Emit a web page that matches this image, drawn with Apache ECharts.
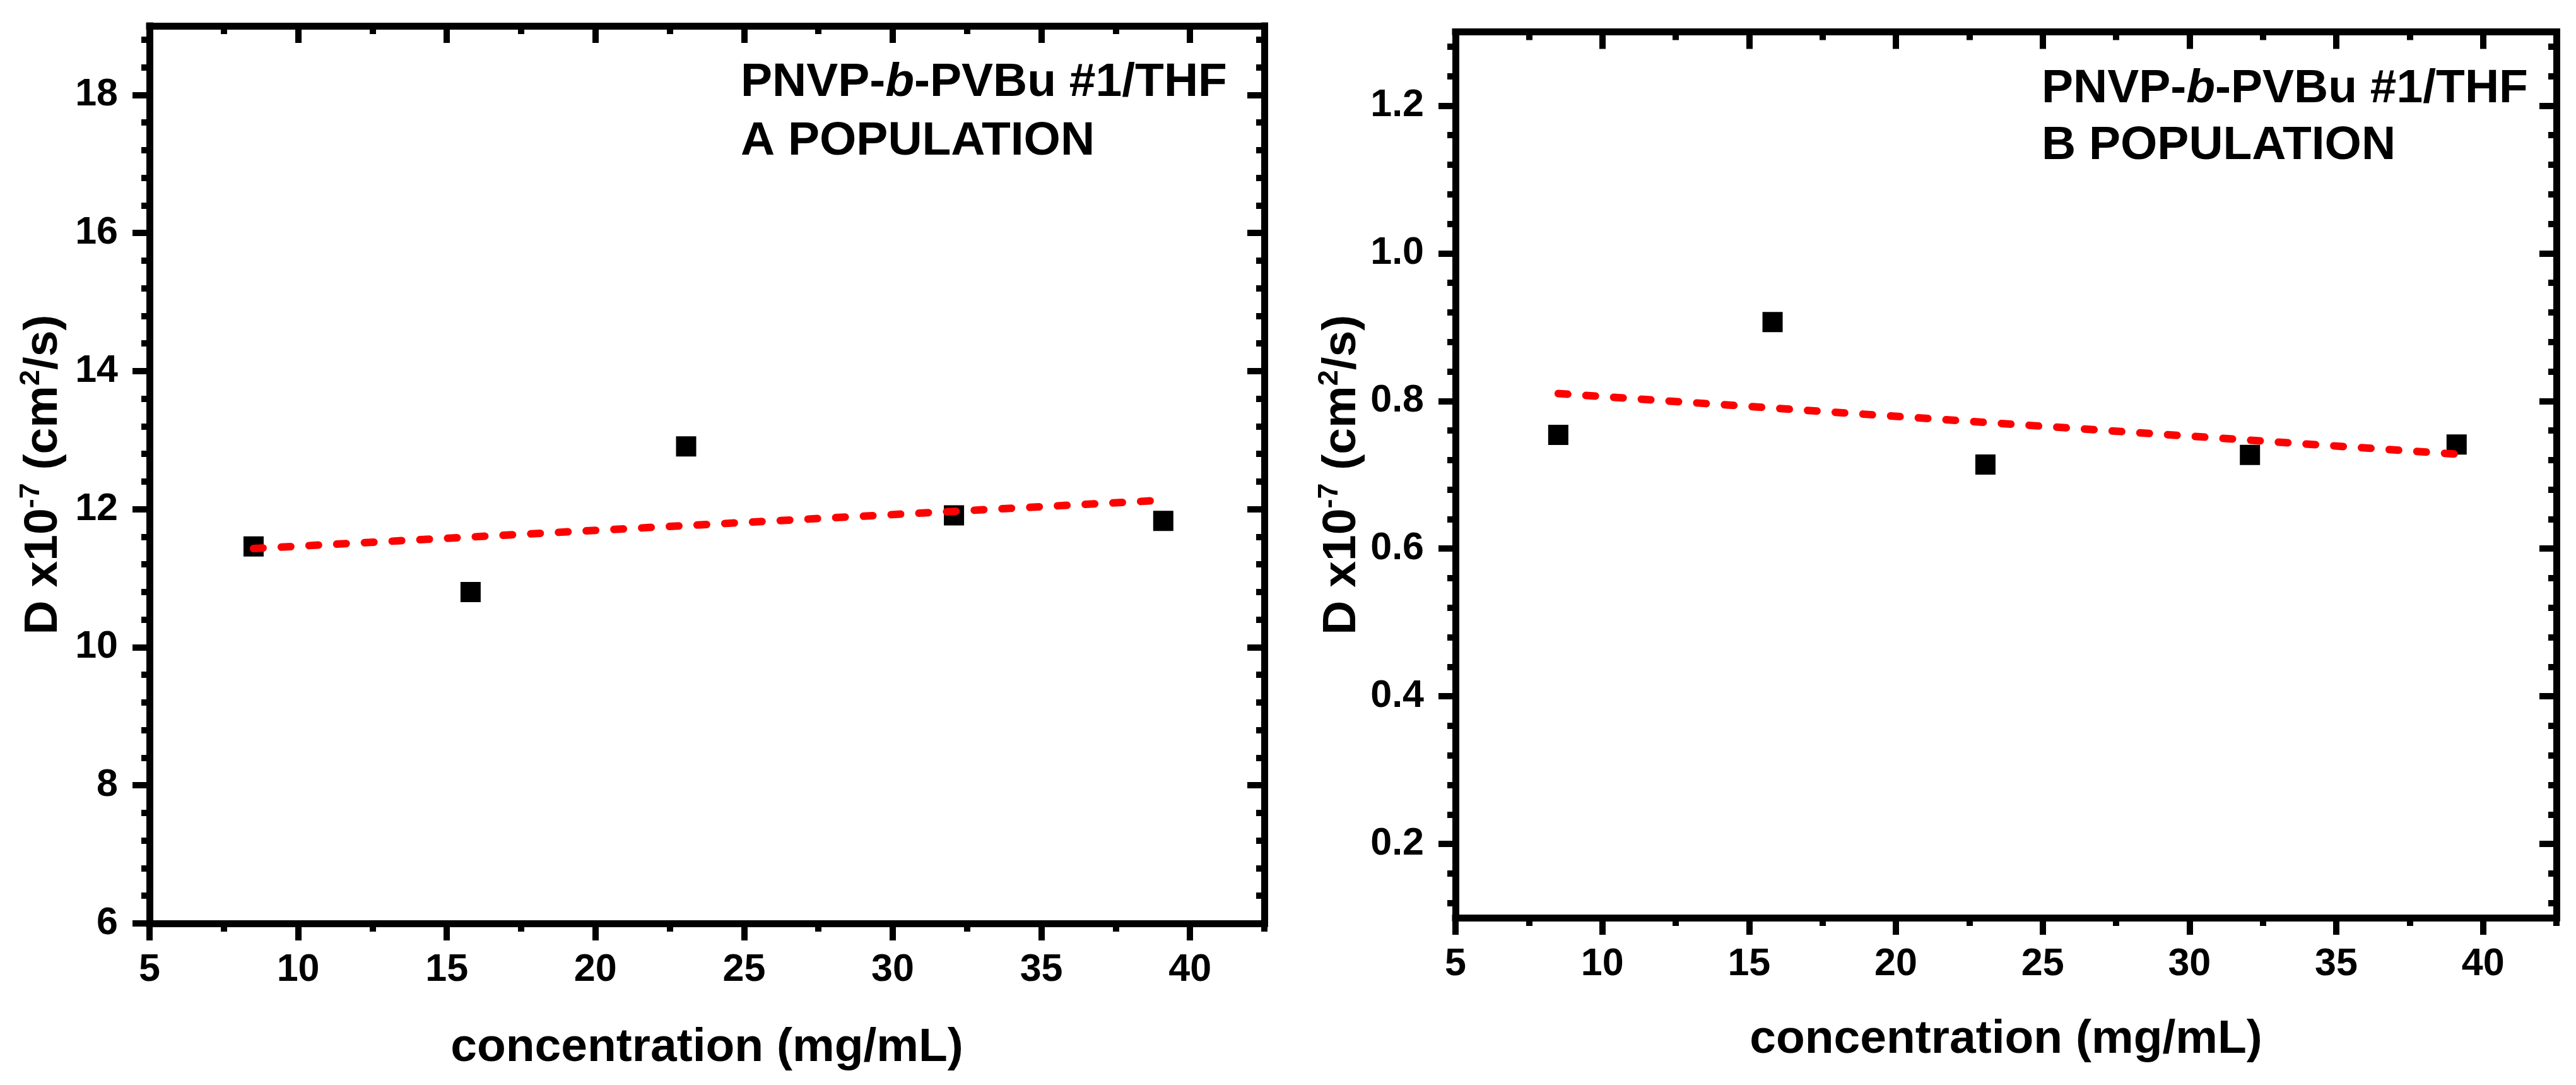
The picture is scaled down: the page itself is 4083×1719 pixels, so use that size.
<!DOCTYPE html>
<html><head><meta charset="utf-8">
<script src="https://cdn.jsdelivr.net/npm/echarts@6/dist/echarts.min.js"></script>
<style>html,body{margin:0;padding:0;background:#fff}#c{width:4083px;height:1719px}</style>
</head><body><div id="c"></div>
<script>
// ---- data ----
const concentration = [8.5, 15.8, 23.05, 32.06, 39.1];
const popA = [11.46, 10.80, 12.91, 11.91, 11.83];
const popB = [0.754, 0.907, 0.714, 0.727, 0.741];
const fitX = [8.5, 39.1];
const fitA = [11.43, 12.13];
const fitB = [0.810, 0.728];
const xTicks = [5, 10, 15, 20, 25, 30, 35, 40];
const xMinorTicks = [7.5, 12.5, 17.5, 22.5, 27.5, 32.5, 37.5, 42.5];
const yTicksA = [6, 8, 10, 12, 14, 16, 18];
const yMinorTicksA = [6.4, 6.8, 7.2, 7.6, 8.4, 8.8, 9.2, 9.6, 10.4, 10.8, 11.2, 11.6, 12.4, 12.8, 13.2, 13.6, 14.4, 14.8, 15.2, 15.6, 16.4, 16.8, 17.2, 17.6, 18.4, 18.8];
const yTicksB = [0.2, 0.4, 0.6, 0.8, 1.0, 1.2];
const yMinorTicksB = [0.12, 0.16, 0.24, 0.28, 0.32, 0.36, 0.44, 0.48, 0.52, 0.56, 0.64, 0.68, 0.72, 0.76, 0.84, 0.88, 0.92, 0.96, 1.04, 1.08, 1.12, 1.16, 1.24, 1.28];
const xTitle = 'concentration (mg/mL)';
const annotLine1 = ['PNVP-', 'b', '-PVBu #1/THF'];
const annotLine2 = ['A POPULATION', 'B POPULATION'];

const F = '"Liberation Sans", Arial, sans-serif';
const LW = 11, TW = 10, MAJ = 27, MIN = 13;
const black = '#000';

function xAxes(g) {
  const base = {gridIndex: g, type: 'value', min: 5, max: 42.5, splitLine: {show: false}};
  return [
    Object.assign({}, base, {position: 'bottom',
      axisLine: {show: true, lineStyle: {color: black, width: LW, cap: 'square'}},
      axisTick: {show: true, customValues: xTicks, length: MAJ, lineStyle: {color: black, width: TW}},
      axisLabel: {show: true, customValues: xTicks, margin: 44, fontSize: 61, fontWeight: 'bold', color: black, fontFamily: F},
      name: xTitle, nameLocation: 'middle', nameGap: g === 0 ? 160 : 156,
      nameTextStyle: {fontSize: 75, fontWeight: 'bold', color: black, fontFamily: F}}),
    Object.assign({}, base, {position: 'bottom', axisLine: {show: false},
      axisTick: {show: true, customValues: xMinorTicks, length: MIN, lineStyle: {color: black, width: TW}},
      axisLabel: {show: false}}),
    Object.assign({}, base, {position: 'top',
      axisLine: {show: true, lineStyle: {color: black, width: LW, cap: 'square'}},
      axisTick: {show: true, inside: true, customValues: xTicks, length: MAJ, lineStyle: {color: black, width: TW}},
      axisLabel: {show: false}}),
    Object.assign({}, base, {position: 'top', axisLine: {show: false},
      axisTick: {show: true, inside: true, customValues: xMinorTicks, length: MIN, lineStyle: {color: black, width: TW}},
      axisLabel: {show: false}})
  ];
}

function yAxes(g, min, max, major, minor, fmt, gap) {
  const base = {gridIndex: g, type: 'value', min: min, max: max, splitLine: {show: false}};
  return [
    Object.assign({}, base, {position: 'left',
      axisLine: {show: true, lineStyle: {color: black, width: LW, cap: 'square'}},
      axisTick: {show: true, customValues: major, length: MAJ, lineStyle: {color: black, width: TW}},
      axisLabel: {show: true, customValues: major, margin: 50, fontSize: 61, fontWeight: 'bold', color: black, fontFamily: F, formatter: fmt},
      name: '{n|D x10}{s|-7}{n| (cm}{s|2}{n|/s)}', nameLocation: 'middle', nameGap: gap, nameRotate: 90,
      nameTextStyle: {fontSize: 75, fontWeight: 'bold', color: black, fontFamily: F,
        rich: {n: {fontSize: 75, fontWeight: 'bold', fontFamily: F, color: black, lineHeight: 80, verticalAlign: 'bottom'},
               s: {fontSize: 45, fontWeight: 'bold', fontFamily: F, color: black, lineHeight: 80, verticalAlign: 'top'}}}}),
    Object.assign({}, base, {position: 'left', axisLine: {show: false},
      axisTick: {show: true, customValues: minor, length: MIN, lineStyle: {color: black, width: TW}},
      axisLabel: {show: false}}),
    Object.assign({}, base, {position: 'right',
      axisLine: {show: true, lineStyle: {color: black, width: LW, cap: 'square'}},
      axisTick: {show: true, inside: true, customValues: major, length: MAJ, lineStyle: {color: black, width: TW}},
      axisLabel: {show: false}}),
    Object.assign({}, base, {position: 'right', axisLine: {show: false},
      axisTick: {show: true, inside: true, customValues: minor, length: MIN, lineStyle: {color: black, width: TW}},
      axisLabel: {show: false}})
  ];
}

const ptsA = concentration.map((x, i) => [x, popA[i]]);
const ptsB = concentration.map((x, i) => [x, popB[i]]);
const lineA = fitX.map((x, i) => [x, fitA[i]]);
const lineB = fitX.map((x, i) => [x, fitB[i]]);

const richAnn = {
  r: {fontSize: 75, fontWeight: 'bold', fontFamily: F, color: black},
  i: {fontSize: 75, fontWeight: 'bold', fontStyle: 'italic', fontFamily: F, color: black}
};
function ann(left, top1, top2, line2) {
  return [
    {type: 'text', left: left, top: top1, z: 100,
     style: {text: '{r|' + annotLine1[0] + '}{i|' + annotLine1[1] + '}{r|' + annotLine1[2] + '}', rich: richAnn}},
    {type: 'text', left: left, top: top2, z: 100,
     style: {text: line2, fontSize: 75, fontWeight: 'bold', fontFamily: F, fill: black}}
  ];
}

const dash = {color: '#ff0000', width: 12, type: [15, 29], cap: 'round'};
const sq = {color: black, opacity: 1};

const option = {
  backgroundColor: '#fff',
  animation: false,
  grid: [
    {left: 237, right: 4083 - 2004, top: 41, bottom: 1719 - 1463},
    {left: 2307, right: 4083 - 4052, top: 50.5, bottom: 1719 - 1454}
  ],
  xAxis: xAxes(0).concat(xAxes(1)),
  yAxis: yAxes(0, 6, 19, yTicksA, yMinorTicksA, v => String(Math.round(v)), 130)
    .concat(yAxes(1, 0.1, 1.3, yTicksB, yMinorTicksB, v => v.toFixed(1), 142)),
  series: [
    {type: 'line', xAxisIndex: 0, yAxisIndex: 0, data: lineA, showSymbol: false, lineStyle: dash, z: 3},
    {type: 'scatter', xAxisIndex: 0, yAxisIndex: 0, data: ptsA, symbol: 'rect', symbolSize: 32, itemStyle: sq, z: 2},
    {type: 'line', xAxisIndex: 4, yAxisIndex: 4, data: lineB, showSymbol: false, lineStyle: dash, z: 3},
    {type: 'scatter', xAxisIndex: 4, yAxisIndex: 4, data: ptsB, symbol: 'rect', symbolSize: 32, itemStyle: sq, z: 2}
  ],
  graphic: ann(1174, 94, 187, annotLine2[0]).concat(ann(3236, 104, 194, annotLine2[1]))
};

const chart = echarts.init(document.getElementById('c'), null, {renderer: 'canvas'});
chart.setOption(option);
</script>
</body></html>
